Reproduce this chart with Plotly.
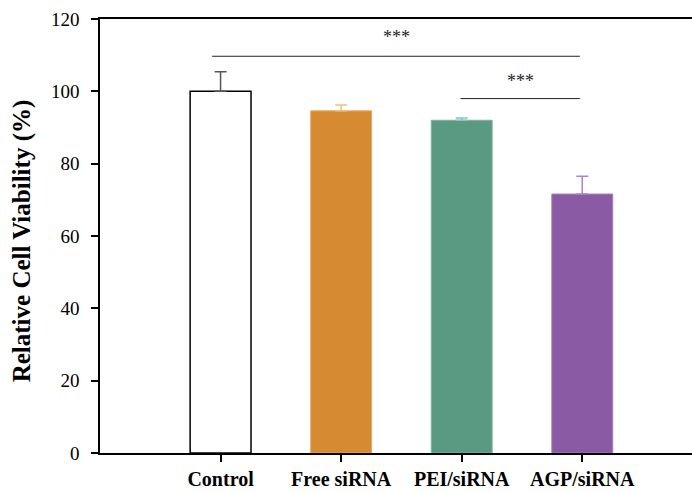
import plotly.graph_objects as go

categories = ["Control", "Free siRNA", "PEI/siRNA", "AGP/siRNA"]
values = [100.0, 94.6, 92.0, 71.6]
errors = [5.4, 1.6, 0.6, 4.9]
fill_colors = ["#FFFFFF", "#D68B32", "#5A9A82", "#8A5BA4"]
line_colors = ["#000000", "#E6A860", "#7DB3A0", "#A27CC0"]
err_colors = ["#555555", "#F0BE80", "#86C6BE", "#A987C6"]

# significance brackets: (start category idx offset, end idx offset, y level, label)
sig_x0 = [-0.07, 1.99]
sig_x1 = [2.98, 2.98]
sig_y = [109.7, 98.0]
sig_text_y = [115.1, 102.9]
sig_label = ["***", "***"]

fig = go.Figure()
for i, c in enumerate(categories):
    fig.add_trace(go.Bar(
        x=[i], y=[values[i]], width=0.505,
        marker=dict(color=fill_colors[i], line=dict(color=line_colors[i], width=1.5 if i == 0 else 1)),
        error_y=dict(type="data", symmetric=False, array=[errors[i]], arrayminus=[0],
                     color=err_colors[i], thickness=1.5, width=6),
        showlegend=False,
    ))

for x0, x1, y, ty, lab in zip(sig_x0, sig_x1, sig_y, sig_text_y, sig_label):
    fig.add_shape(type="line", x0=x0, x1=x1, y0=y, y1=y, xref="x", yref="y",
                  line=dict(color="#222222", width=1))
    fig.add_annotation(x=(x0 + x1) / 2, y=ty, text=lab, showarrow=False,
                       xref="x", yref="y",
                       font=dict(family="Liberation Serif", size=18, color="#222222"))

fig.add_annotation(text="<b>Relative Cell Viability (%)</b>", textangle=-90,
                   x=-0.1318, y=0.49, xref="paper", yref="paper",
                   xanchor="center", yanchor="middle", showarrow=False,
                   font=dict(family="Liberation Serif", size=25, color="black"))

fig.update_layout(
    width=692, height=492,
    margin=dict(l=100, r=0, t=19, b=39),
    plot_bgcolor="white", paper_bgcolor="white",
    barmode="overlay",
    xaxis=dict(
        range=[-1, 3.91],
        tickmode="array", tickvals=list(range(len(categories))),
        ticktext=["<b>%s</b>" % c for c in categories],
        ticks="outside", ticklen=7, tickwidth=1.5, tickcolor="black",
        showline=True, linecolor="black", linewidth=1.5, mirror=True,
        showgrid=False, zeroline=False,
        tickfont=dict(family="Liberation Serif", size=20, color="black"),
    ),
    yaxis=dict(
        range=[0, 120], tickmode="linear", tick0=0, dtick=20,
        ticks="outside", ticklen=7, tickwidth=1.5, tickcolor="black",
        showline=True, linecolor="black", linewidth=1.5,
        showgrid=False, zeroline=False,
        ticklabelstandoff=8,
        tickfont=dict(family="Liberation Serif", size=19, color="black"),
    ),
)

fig.write_html("out.html")
